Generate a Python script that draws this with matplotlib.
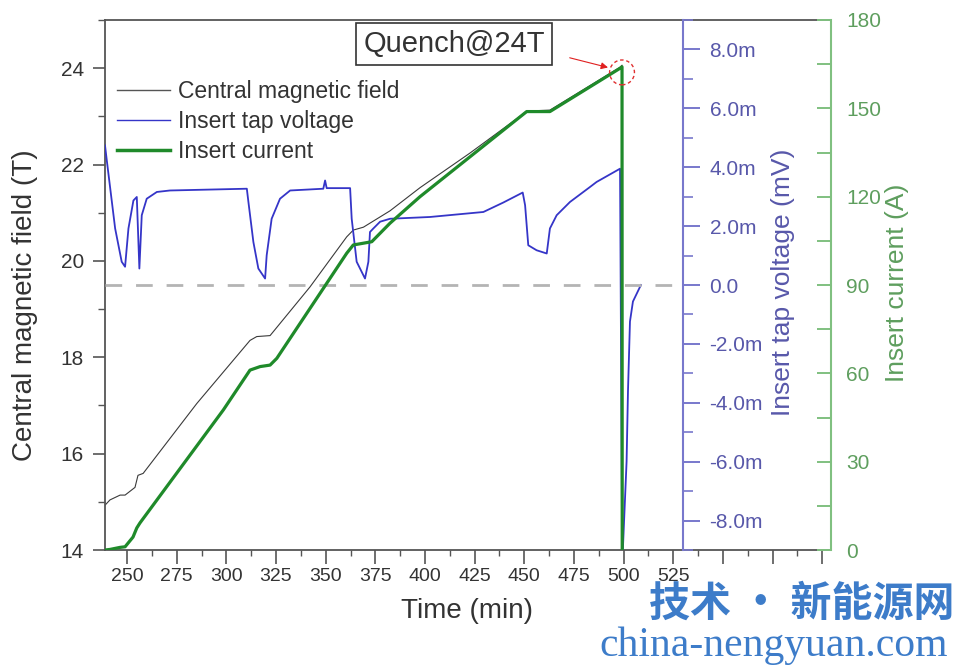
import matplotlib
matplotlib.use('Agg')
import matplotlib.pyplot as plt
from matplotlib.ticker import MultipleLocator, FuncFormatter
from matplotlib.lines import Line2D

plt.rcParams['font.family'] = ['Liberation Sans', 'DejaVu Sans']

# central magnetic field (T) vs time (min)
field_time = [238.9, 241.4, 246.5, 249.0, 254.0, 255.5, 258.1, 285.1, 311.9, 315.3,
              322.0, 323.6, 342.1, 360.6, 363.9, 369.0, 382.4, 397.5, 422.7, 447.8,
              451.2, 462.9, 498.2, 499.2]
field_T = [14.93, 15.04, 15.14, 15.14, 15.30, 15.55, 15.59, 17.04, 18.35, 18.43,
           18.45, 18.53, 19.46, 20.50, 20.64, 20.70, 21.04, 21.52, 22.24, 23.00,
           23.11, 23.13, 24.02, 24.06]

# insert current (A)
current_time = [238.9, 241.4, 246.5, 249.0, 253.0, 254.9, 256.5, 298.5, 311.9, 317.0,
                322.0, 325.4, 360.6, 363.9, 369.0, 373.2, 382.4, 397.5, 451.2, 462.9,
                498.2, 499.2, 499.3]
current_A = [0.0, 0.2, 0.9, 1.1, 4.4, 7.5, 9.2, 47.6, 61.1, 62.3,
             62.8, 65.1, 100.8, 103.6, 104.2, 104.7, 111.0, 120.0, 148.9, 148.9,
             163.6, 164.1, 0.0]

# insert tap voltage (mV)
volt_time = [238.9, 239.8, 244.0, 247.3, 249.0, 250.7, 253.2, 254.9, 256.2, 257.4,
             259.9, 265.0, 271.6, 310.3, 311.1, 313.6, 316.1, 319.5, 320.3, 322.8,
             327.0, 332.1, 348.8, 349.7, 350.5, 362.3, 363.1, 365.6, 369.8, 371.5,
             372.3, 374.0, 377.4, 382.4, 402.5, 429.4, 439.4, 449.2, 450.4, 452.0,
             456.2, 461.3, 462.9, 466.3, 473.0, 483.1, 486.4, 498.2, 499.3, 501.5,
             502.2, 503.2, 504.7, 508.7]
volt_mV = [4.74, 4.23, 1.92, 0.79, 0.62, 1.92, 2.87, 2.99, 0.56, 2.37,
           2.93, 3.16, 3.21, 3.27, 2.82, 1.46, 0.56, 0.22, 1.01, 2.25,
           2.93, 3.21, 3.27, 3.55, 3.29, 3.29, 2.25, 0.79, 0.22, 0.79,
           1.80, 1.92, 2.15, 2.25, 2.31, 2.48, 2.80, 3.14, 2.71, 1.35,
           1.18, 1.07, 1.92, 2.37, 2.82, 3.33, 3.50, 3.95, -9.5, -5.99,
           -3.61, -1.24, -0.56, 0.0]

quench_time = 499.2
quench_current = 162.2

x_major = [250, 275, 300, 325, 350, 375, 400, 425, 450, 475, 500, 525, 550, 575, 600]
x_last_label = 525

txt = '#333333'
blue = '#3535c8'
blue_ax = '#7878cc'
blue_txt = '#5858aa'
green = '#1f8a2a'
green_ax = '#80c080'
green_txt = '#5e9e5e'

fig = plt.figure(figsize=(9.58, 6.71), dpi=100)
ax = fig.add_axes([0.1092, 0.1803, 0.7582, 0.7899])
ax2 = ax.twinx()
ax3 = ax.twinx()

blue_pos = 0.7966

ax.plot(field_time, field_T, color='#3a3a3a', lw=0.8)
ax2.plot(volt_time, volt_mV, color=blue, lw=1.3)
ax2.axhline(0, xmin=0, xmax=blue_pos, color='#b4b4b4', lw=2, dashes=(6, 5))
ax3.plot(current_time, current_A, color=green, lw=2.3)

ax.set_xlim(238.7, 604.4)
ax.set_ylim(14, 25)
ax2.set_ylim(-9, 9)
ax3.set_ylim(0, 180)

# spines
ax.spines['right'].set_visible(False)
for s in ['left', 'top', 'bottom']:
    ax2.spines[s].set_visible(False)
    ax3.spines[s].set_visible(False)
for s in ['left', 'bottom', 'top']:
    ax.spines[s].set_color('#555555')
    ax.spines[s].set_linewidth(1.3)
ax2.spines['right'].set_position(('axes', blue_pos))
ax2.spines['right'].set_color(blue_ax)
ax2.spines['right'].set_linewidth(1.5)
ax3.spines['right'].set_color(green_ax)
ax3.spines['right'].set_linewidth(1.5)

# x axis
ax.xaxis.set_major_locator(plt.FixedLocator(x_major))
ax.xaxis.set_minor_locator(MultipleLocator(12.5))
ax.xaxis.set_major_formatter(FuncFormatter(lambda v, p: f'{v:.0f}' if v <= x_last_label else ''))
ax.tick_params(axis='x', which='major', length=10, width=1.2, pad=3, labelsize=14,
               color='#555555', labelcolor=txt)
ax.tick_params(axis='x', which='minor', length=4, width=1.0, color='#555555')

# left axis
ax.yaxis.set_major_locator(MultipleLocator(2))
ax.yaxis.set_minor_locator(MultipleLocator(1))
ax.tick_params(axis='y', which='major', length=9, width=1.2, pad=6, labelsize=15,
               color='#555555', labelcolor=txt)
ax.tick_params(axis='y', which='minor', length=5, width=1.0, color='#555555')

# voltage axis
ax2.yaxis.set_major_locator(MultipleLocator(2))
ax2.yaxis.set_minor_locator(MultipleLocator(1))
ax2.yaxis.set_major_formatter(FuncFormatter(lambda v, p: '0.0' if abs(v) < 1e-9 else f'{v:.1f}m'))
ax2.tick_params(axis='y', which='major', length=12, width=1.4, pad=7, labelsize=15,
                color=blue_ax, labelcolor=blue_txt)
ax2.tick_params(axis='y', which='minor', length=7, width=1.2, color=blue_ax)

# current axis
ax3.yaxis.set_major_locator(MultipleLocator(30))
ax3.yaxis.set_minor_locator(MultipleLocator(15))
ax3.tick_params(axis='y', which='both', direction='in', length=10, width=1.4, pad=11,
                labelsize=15, color=green_ax, labelcolor=green_txt)

ax.set_xlabel('Time (min)', fontsize=20, color=txt)
ax.xaxis.set_label_coords(0.4985, -0.09)
ax.set_ylabel('Central magnetic field (T)', fontsize=20, color=txt)
ax.yaxis.set_label_coords(-0.0916, 0.462)
ax2.set_ylabel('Insert tap voltage (mV)', fontsize=19, color=blue_txt)
ax2.yaxis.set_label_coords(0.917, 0.506)
ax3.set_ylabel('Insert current (A)', fontsize=19, color=green_txt)
ax3.yaxis.set_label_coords(1.074, 0.504)

# legend
handles = [Line2D([], [], color='#555555', lw=1.0),
           Line2D([], [], color=blue, lw=1.0),
           Line2D([], [], color=green, lw=2.5)]
labels = ['Central magnetic field', 'Insert tap voltage', 'Insert current']
leg = ax3.legend(handles, labels, loc='upper left', bbox_to_anchor=(0.017, 0.887),
                 frameon=False, fontsize=16.5, handlelength=2.3, handletextpad=0.35,
                 labelspacing=0.3, borderpad=0, borderaxespad=0)
for t in leg.get_texts():
    t.set_color(txt)

# quench annotation
ax.text(414.6, 24.5, 'Quench@24T', fontsize=21, color=txt, ha='center', va='center',
        bbox=dict(boxstyle='square,pad=0.25', fc='white', ec='#333333', lw=1.2), zorder=5)
ax.annotate('', xy=(493.5, 24.0), xytext=(471.5, 24.23),
            arrowprops=dict(arrowstyle='-|>', color='#e02020', lw=0.8, mutation_scale=10))
ax3.scatter([quench_time], [quench_current], s=320, facecolors='none', edgecolors='#e03030',
            linewidths=1.0, linestyle=(0, (2.5, 2)), zorder=6, clip_on=False)

# watermark
fig.text(0.677, 0.101, '技术 · 新能源网', fontsize=29.5, color='#3d7cc9', fontweight='bold',
         family=['Noto Sans CJK SC', 'DejaVu Sans'], ha='left', va='center')
fig.text(0.626, 0.038, 'china-nengyuan.com', fontsize=30, color='#3d7cc9',
         family=['Liberation Serif', 'DejaVu Serif'], ha='left', va='center')

fig.savefig('out.png', dpi=100)
